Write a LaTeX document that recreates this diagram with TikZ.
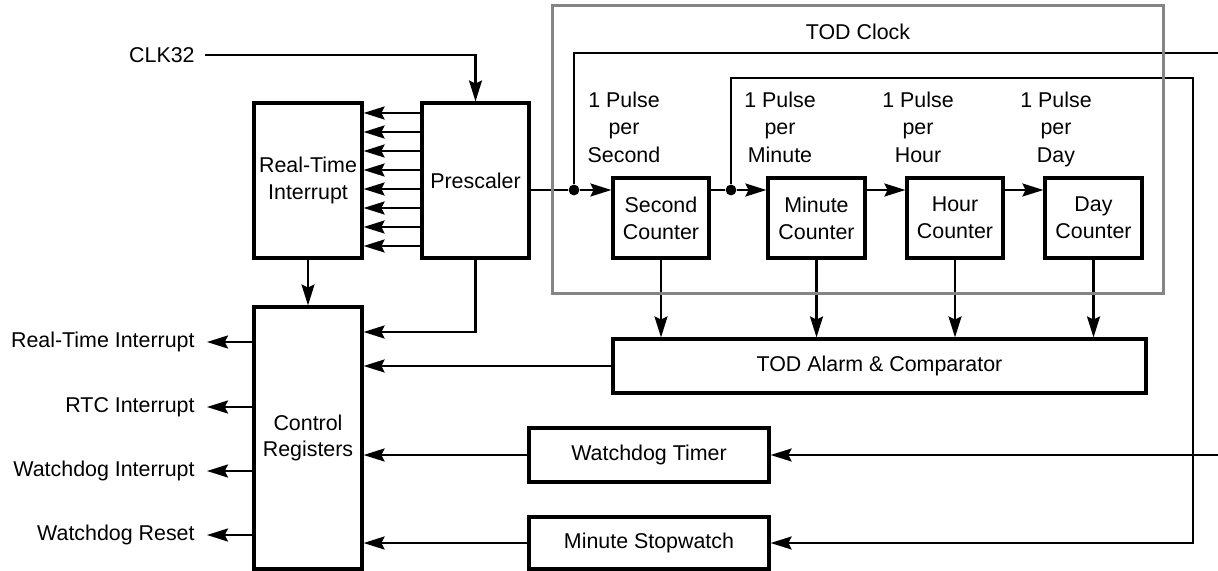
\documentclass[tikz,border=0pt]{standalone}
\usepackage{fontspec}
\setmainfont{Liberation Sans}
\usetikzlibrary{arrows.meta}
\begin{document}
\begin{tikzpicture}[x=0.5pt,y=-0.5pt,
  box/.style={draw,line width=1.6pt,inner sep=0pt,align=center,font=\fontsize{10.7}{13.4}\selectfont},
  conn/.style={line width=1.1pt},
  arr/.style={conn,-{Stealth[length=10.5pt,width=6.5pt,inset=1.6pt]}},
  lbl/.style={inner sep=0pt,align=center,font=\fontsize{10.7}{13.75}\selectfont},
  dot/.style={circle,fill,inner sep=0pt,minimum size=5.4pt},
  grayframe/.style={draw=black!48,line width=1.5pt,inner sep=0pt}]
\useasboundingbox (0,0) rectangle (1218,571);

% boxes
\node[box,minimum width=54pt,minimum height=77.5pt] (rti) at (308,180.5) {Real-Time\\Interrupt};
\node[box,minimum width=53.5pt,minimum height=77.5pt] (pre) at (475.5,180.5) {Prescaler};
\node[box,minimum width=54pt,minimum height=131pt] (cr) at (308,438) {Control\\Registers};
\node[box,minimum width=48pt,minimum height=40pt] (sec) at (661,218) {Second\\Counter};
\node[box,minimum width=48.5pt,minimum height=40pt] (min) at (816.5,218) {Minute\\Counter};
\node[box,minimum width=48pt,minimum height=40pt] (hour) at (955,218) {Hour\\Counter};
\node[box,minimum width=48.5pt,minimum height=40pt] (day) at (1093.5,218) {Day\\Counter};
\node[box,minimum width=266.5pt,minimum height=27pt] (alarm) at (879.5,366) {TOD Alarm \& Comparator};
\node[box,minimum width=120pt,minimum height=27pt] (wdt) at (649,455) {Watchdog Timer};
\node[box,minimum width=120pt,minimum height=26pt] (sw) at (649,543) {Minute Stopwatch};

% labels
\node[lbl,anchor=east] (clk) at (195,55) {CLK32};
\node[lbl] (todl) at (858,32) {TOD Clock};
\node[lbl] (p1) at (624,131) {1 Pulse\\per\\Second\strut};
\node[lbl] (p2) at (780,131) {1 Pulse\\per\\Minute\strut};
\node[lbl] (p3) at (918,131) {1 Pulse\\per\\Hour\strut};
\node[lbl] (p4) at (1056,131) {1 Pulse\\per\\Day\strut};
\node[lbl,anchor=east] (o1) at (195,342) {Real-Time Interrupt};
\node[lbl,anchor=east] (o2) at (195,407) {RTC Interrupt};
\node[lbl,anchor=east] (o3) at (195,471) {Watchdog Interrupt};
\node[lbl,anchor=east] (o4) at (195,535) {Watchdog Reset};

% connectors
\draw[arr] ([xshift=5pt]clk.east) -| (pre.north);
\foreach \y in {113,132,151,170,189,208,227,246}
  \draw[arr] (pre.west |- 0,\y) -- (rti.east |- 0,\y);
\draw[arr] (rti.south) -- (cr.north);
\draw[arr] (pre.south) |- (cr.east |- 0,332);
\foreach \o in {o1,o2,o3,o4}
  \draw[arr] (cr.west |- \o) -- ([xshift=6pt]\o.east);

\node[dot] (d1) at (574,190) {};
\node[dot] (d2) at (731,190) {};
\coordinate (top1) at (1218,53);
\coordinate (rr) at (1193,78);
\coordinate (wdin) at (1218,455);
\draw[conn] (pre.east |- d1) -- (d1);
\draw[arr] (d1) -- (sec.west |- d1);
\draw[conn] (d1) |- (top1);
\draw[conn] (sec.east |- d2) -- (d2);
\draw[arr] (d2) -- (min.west |- d2);
\draw[arr] (d2) |- (rr) |- (sw.east);
\draw[arr] (min.east |- d2) -- (hour.west |- d2);
\draw[arr] (hour.east |- d2) -- (day.west |- d2);

\foreach \c in {sec,min,hour,day}
  \draw[arr] (\c.south) -- (\c.south |- alarm.north);
\draw[arr] (alarm.west) -- (cr.east |- alarm.west);
\draw[arr] (wdin) -- (wdt.east);
\draw[arr] (wdt.west) -- (cr.east |- wdt.west);
\draw[arr] (sw.west) -- (cr.east |- sw.west);

% TOD clock frame
\node[grayframe,minimum width=305.5pt,minimum height=143.5pt] (tod) at (857.5,149.5) {};
\end{tikzpicture}
\end{document}
